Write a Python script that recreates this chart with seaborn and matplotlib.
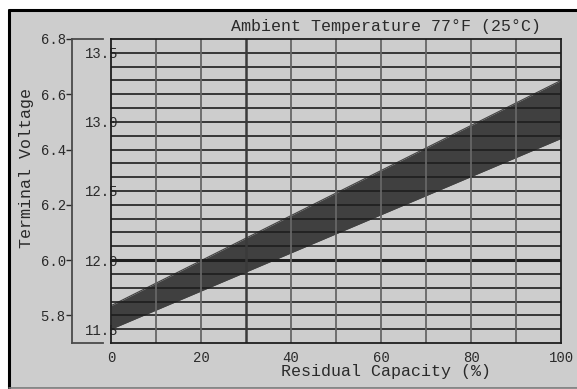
import numpy as np
import pandas as pd
import matplotlib
matplotlib.use("Agg")
import matplotlib.pyplot as plt
from matplotlib.patches import Rectangle
from matplotlib.lines import Line2D
import seaborn as sns

# Charge-state band for a 12 V battery at 25 °C
capacity = [0, 100]               # residual capacity (%)
upper_v = [11.67, 13.30]          # upper edge of the band (V, 12 V battery)
lower_v = [11.50, 12.88]          # lower edge of the band (V, 12 V battery)

ticks_12v = [11.5, 12.0, 12.5, 13.0, 13.5]
ticks_6v = [5.8, 6.0, 6.2, 6.4, 6.6, 6.8]
ticks_x = [0, 20, 40, 60, 80, 100]

sns.set_theme(style="white")
plt.rcParams["font.family"] = ["Liberation Mono", "DejaVu Sans Mono"]

BG = "#cdcdcd"
TXT = "#2a2a2a"
W, H = 577, 389

fig = plt.figure(figsize=(W / 100, H / 100), dpi=100)
fig.patch.set_facecolor("white")

# panel background and frame
fig.patches.append(Rectangle((9 / W, 1 - 388 / H), 1 - 9 / W, (388 - 10) / H,
                             transform=fig.transFigure, facecolor=BG,
                             edgecolor="none", zorder=-10))
fig.lines.append(Line2D([9 / W, 1], [1 - 10 / H, 1 - 10 / H], transform=fig.transFigure,
                        color="black", lw=2.2, zorder=-5))
fig.lines.append(Line2D([9 / W, 9 / W], [1 - 10 / H, 1 - 388 / H], transform=fig.transFigure,
                        color="black", lw=2.2, zorder=-5))
fig.lines.append(Line2D([9 / W, 1], [1 - 388 / H, 1 - 388 / H], transform=fig.transFigure,
                        color="#7a7a7a", lw=1.2, zorder=-5))

left, right, top, bottom = 111, 561, 39, 343
ax = fig.add_axes([left / W, 1 - bottom / H, (right - left) / W, (bottom - top) / H])
ax.set_facecolor("none")

df = pd.DataFrame({"capacity": capacity, "upper": upper_v, "lower": lower_v})
ax.fill_between(df["capacity"], df["lower"], df["upper"], color="#404040", lw=0, zorder=1)
sns.lineplot(data=df, x="capacity", y="upper", ax=ax, color="#404040", lw=0.8, zorder=1)
sns.lineplot(data=df, x="capacity", y="lower", ax=ax, color="#404040", lw=0.8, zorder=1)

ax.set_xlim(0, 100)
ax.set_ylim(11.4, 13.6)

# grid
for yv in np.round(np.arange(11.5, 13.55, 0.1), 1):
    ax.axhline(yv, color="#1e1e1e", lw=2.2 if abs(yv - 12.0) < 1e-6 else 1.2, zorder=2)
for xv in range(10, 100, 10):
    ax.axvline(xv, color="#3a3a3a" if xv == 30 else "#666666",
               lw=1.8 if xv == 30 else 1.3, zorder=2)

for s in ax.spines.values():
    s.set_visible(True)
    s.set_color("#1e1e1e")
    s.set_linewidth(1.3)
    s.set_zorder(3)

ax.set_xticks(ticks_x)
ax.set_xticklabels([str(t) for t in ticks_x])
ax.set_yticks(ticks_12v)
ax.set_yticklabels([f"{t:.1f}" for t in ticks_12v])
ax.tick_params(axis="x", length=0, pad=6, labelsize=10, colors=TXT)
ax.tick_params(axis="y", length=0, pad=-5, labelsize=10, colors=TXT)

ax.set_xlabel("Residual Capacity (%)", fontsize=12, color=TXT)
ax.xaxis.set_label_coords((386 - left) / (right - left), -(364 - bottom) / (bottom - top))
ax.set_ylabel("Terminal Voltage", fontsize=12, color=TXT)
ax.yaxis.set_label_coords(-(left - 34) / (right - left), (bottom - 168) / (bottom - top))

# 6 V scale on the outer bracket
ax6 = fig.add_axes([72 / W, 1 - bottom / H, 31 / W, (bottom - top) / H])
ax6.set_facecolor("none")
ax6.set_xlim(0, 1)
ax6.set_ylim(11.4 / 2, 13.6 / 2)
ax6.set_xticks([])
ax6.set_yticks(ticks_6v)
ax6.set_yticklabels([f"{t:.1f}" for t in ticks_6v])
ax6.tick_params(axis="y", length=4, width=1, pad=0.5, labelsize=10, colors=TXT, left=True)
ax6.spines["right"].set_visible(False)
for k in ("left", "top", "bottom"):
    ax6.spines[k].set_visible(True)
    ax6.spines[k].set_color("#4a4a4a")
    ax6.spines[k].set_linewidth(1.3)

fig.text(386 / W, 1 - 27 / H, "Ambient Temperature 77°F (25°C)",
         ha="center", va="center", fontsize=12, color=TXT)

fig.savefig("out.png", dpi=100)
